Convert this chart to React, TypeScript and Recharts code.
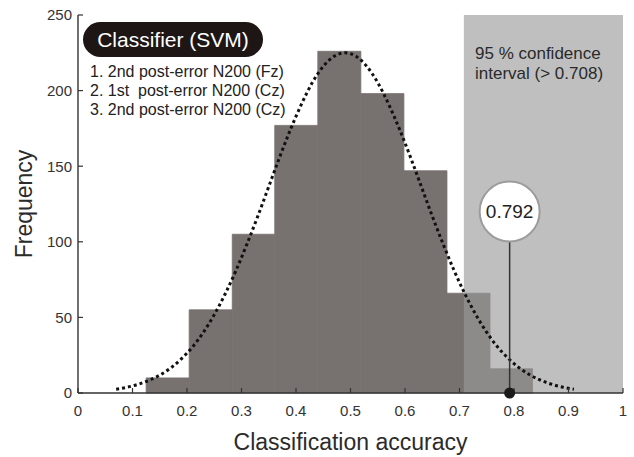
import {
  ComposedChart,
  Line,
  XAxis,
  YAxis,
  ReferenceArea,
  ReferenceLine,
  ReferenceDot,
} from "recharts";

// histogram of permutation accuracies (bin edges + counts)
const binEdges = [0.125, 0.204, 0.283, 0.361, 0.44, 0.519, 0.598, 0.677, 0.756, 0.834];
const binCounts = [10, 55, 105, 177, 226, 198, 147, 66, 16];

// fitted normal curve
const fitX = [
  0.07, 0.09, 0.11, 0.13, 0.15, 0.17, 0.19, 0.21, 0.23, 0.25, 0.27, 0.29, 0.31, 0.33,
  0.35, 0.37, 0.39, 0.41, 0.43, 0.45, 0.47, 0.49, 0.51, 0.53, 0.55, 0.57, 0.59, 0.61,
  0.63, 0.65, 0.67, 0.69, 0.71, 0.73, 0.75, 0.77, 0.79, 0.81, 0.83, 0.85, 0.87, 0.89, 0.91,
];
const fitFreq = [
  2.5, 3.8, 5.7, 8.3, 11.8, 16.5, 22.7, 30.4, 40.1, 51.8, 65.5, 81.1, 98.5, 117,
  136.5, 156, 174.4, 191, 205.3, 216, 222.7, 225, 222.7, 216, 205.3, 191, 174.4, 156,
  136.5, 117, 98.5, 81.1, 65.5, 51.8, 40.1, 30.4, 22.7, 16.5, 11.8, 8.3, 5.7, 3.8, 2.5,
];

const xTicks = [0, 0.1, 0.2, 0.3, 0.4, 0.5, 0.6, 0.7, 0.8, 0.9, 1];
const topTicks = [0.1, 0.2, 0.3, 0.4, 0.5, 0.6, 0.7, 0.8, 0.9];
const yTicks = [0, 50, 100, 150, 200, 250];

const confidenceThreshold = 0.708;
const observedAccuracy = 0.792;
const bubbleLevel = 120;
const stemTop = 100;

const classifierTitle = "Classifier (SVM)";
const featureLines = [
  "1. 2nd post-error N200 (Fz)",
  "2. 1st  post-error N200 (Cz)",
  "3. 2nd post-error N200 (Cz)",
];
const confidenceLines = ["95 % confidence", "interval (> 0.708)"];

const FONT = "'Liberation Sans', Arial, Helvetica, sans-serif";
const AXIS = "#333";
const BAR = "#77716f";

const fitData = fitX.map((x, i) => ({ x, freq: fitFreq[i] }));

export default function App() {
  return (
    <div
      style={{
        position: "absolute",
        left: 0,
        top: 0,
        width: 634,
        height: 457,
        background: "#fff",
        fontFamily: FONT,
      }}
    >
      <ComposedChart
        width={634}
        height={457}
        data={fitData}
        margin={{ top: 15, right: 11, bottom: 2, left: 0 }}
        style={{ fontFamily: FONT }}
      >
        <XAxis
          dataKey="x"
          type="number"
          domain={[0, 1]}
          ticks={xTicks}
          allowDataOverflow
          height={62}
          tickSize={-5}
          tickMargin={17}
          axisLine={{ stroke: AXIS, strokeWidth: 1.4 }}
          tickLine={{ stroke: AXIS, strokeWidth: 1.2 }}
          tick={{ fill: "#333", fontSize: 15 }}
          label={{
            value: "Classification accuracy",
            position: "insideBottom",
            offset: 5,
            style: { fontSize: 23, fill: "#2b2b2b" },
          }}
        />
        <XAxis
          xAxisId="top"
          orientation="top"
          type="number"
          domain={[0, 1]}
          ticks={topTicks}
          allowDataOverflow
          mirror
          height={0}
          tickSize={5}
          tickFormatter={() => ""}
          axisLine={{ stroke: AXIS, strokeWidth: 1.4 }}
          tickLine={{ stroke: AXIS, strokeWidth: 1.2 }}
        />
        <YAxis
          type="number"
          domain={[0, 250]}
          ticks={yTicks}
          allowDataOverflow
          width={78}
          tickSize={-5}
          tickMargin={11}
          axisLine={{ stroke: AXIS, strokeWidth: 1.4 }}
          tickLine={{ stroke: AXIS, strokeWidth: 1.2 }}
          tick={{ fill: "#333", fontSize: 15 }}
          label={{
            value: "Frequency",
            angle: -90,
            position: "insideLeft",
            offset: 24,
            style: { fontSize: 23, fill: "#2b2b2b", textAnchor: "middle" },
          }}
        />
        <YAxis
          yAxisId="right"
          orientation="right"
          type="number"
          domain={[0, 250]}
          ticks={yTicks}
          allowDataOverflow
          mirror
          width={0}
          tickSize={5}
          tickFormatter={() => ""}
          axisLine={{ stroke: AXIS, strokeWidth: 1.4 }}
          tickLine={{ stroke: AXIS, strokeWidth: 1.2 }}
        />

        {binCounts.map((count, i) => (
          <ReferenceArea
            key={`bin-${i}`}
            x1={binEdges[i]}
            x2={binEdges[i + 1]}
            y1={0}
            y2={count}
            fill={BAR}
            fillOpacity={1}
            stroke={BAR}
            strokeWidth={0.8}
          />
        ))}

        <ReferenceArea
          x1={confidenceThreshold}
          x2={1}
          y1={0}
          y2={250}
          fill="#999"
          fillOpacity={0.63}
          stroke="none"
        />

        <Line
          dataKey="freq"
          type="monotone"
          stroke="#111"
          strokeWidth={3}
          strokeDasharray="3 3"
          dot={false}
          activeDot={false}
          isAnimationActive={false}
        />

        <ReferenceLine
          segment={[
            { x: observedAccuracy, y: 0 },
            { x: observedAccuracy, y: stemTop },
          ]}
          stroke="#333"
          strokeWidth={1.5}
        />
        <ReferenceDot
          x={observedAccuracy}
          y={0}
          r={5.5}
          fill="#1a1a1a"
          stroke="none"
          ifOverflow="visible"
        />
        <ReferenceDot
          x={observedAccuracy}
          y={bubbleLevel}
          r={30}
          fill="#fff"
          stroke="#9c9c9c"
          strokeWidth={2}
          label={{
            value: String(observedAccuracy),
            position: "center",
            fontSize: 19,
            fill: "#222",
          }}
        />
      </ComposedChart>

      <div
        style={{
          position: "absolute",
          left: 83,
          top: 22,
          width: 180,
          height: 35,
          borderRadius: 18,
          background: "#1e1614",
          color: "#fff",
          fontSize: 21,
          lineHeight: "35px",
          textAlign: "center",
        }}
      >
        {classifierTitle}
      </div>
      <div
        style={{
          position: "absolute",
          left: 90,
          top: 62,
          fontSize: 16,
          lineHeight: "19.2px",
          color: "#222",
          whiteSpace: "pre",
        }}
      >
        {featureLines.map((t) => (
          <div key={t}>{t}</div>
        ))}
      </div>
      <div
        style={{
          position: "absolute",
          left: 475,
          top: 44,
          fontSize: 17,
          lineHeight: "20px",
          color: "#2a2a2a",
          whiteSpace: "pre",
        }}
      >
        {confidenceLines.map((t) => (
          <div key={t}>{t}</div>
        ))}
      </div>
    </div>
  );
}
